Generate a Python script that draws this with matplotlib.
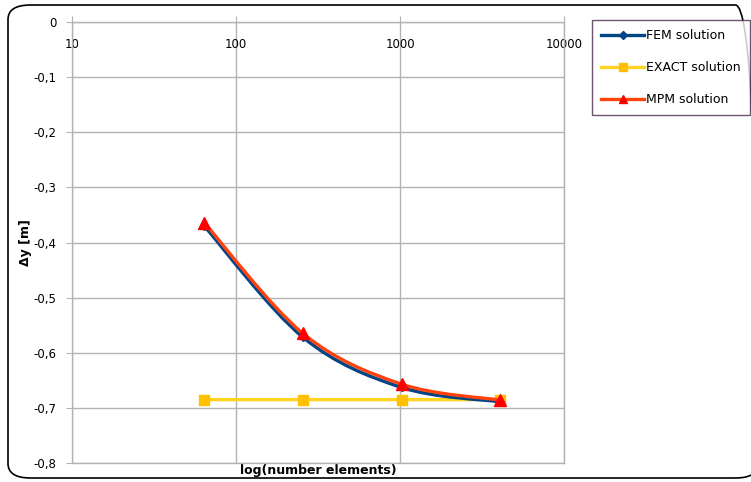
import numpy as np
import matplotlib
matplotlib.use("Agg")
import matplotlib.pyplot as plt
from matplotlib.path import Path
from matplotlib.patches import PathPatch, FancyBboxPatch
from matplotlib.lines import Line2D
from matplotlib.ticker import FuncFormatter, FixedLocator

# data
n_elements = [64, 256, 1024, 4096]
fem = [-0.370, -0.572, -0.663, -0.689]
exact = [-0.685, -0.685, -0.685, -0.685]
mpm = [-0.364, -0.565, -0.657, -0.686]

series_names = ["FEM solution", "EXACT solution", "MPM solution"]
y_ticks = [0, -0.1, -0.2, -0.3, -0.4, -0.5, -0.6, -0.7, -0.8]
x_ticks = [10, 100, 1000, 10000]

GRID = "#b3b3b3"


def smooth_path(xs, ys):
    """Catmull-Rom style bezier through the points (in log10 x space)."""
    lx = np.log10(np.asarray(xs, float))
    y = np.asarray(ys, float)
    px = np.concatenate([[lx[0]], lx, [lx[-1]]])
    py = np.concatenate([[y[0]], y, [y[-1]]])
    verts = [(lx[0], y[0])]
    codes = [Path.MOVETO]
    for i in range(1, len(px) - 2):
        c1 = (px[i] + (px[i + 1] - px[i - 1]) / 6, py[i] + (py[i + 1] - py[i - 1]) / 6)
        c2 = (px[i + 1] - (px[i + 2] - px[i]) / 6, py[i + 1] - (py[i + 2] - py[i]) / 6)
        verts += [c1, c2, (px[i + 1], py[i + 1])]
        codes += [Path.CURVE4] * 3
    verts = [(10 ** a, b) for a, b in verts]
    return Path(verts, codes)


fig = plt.figure(figsize=(7.51, 4.82), dpi=100)
ax = fig.add_axes([72 / 751, 19 / 482, (564 - 72) / 751, (463 - 22) / 482])

ax.set_xscale("log")
ax.set_xlim(10, 10000)
ax.set_ylim(-0.8, 0)

styles = [
    # line colour, marker, marker colour, marker size, zorder
    ("#004586", "D", "#004586", 4.5, 4),
    ("#ffd320", "s", "#ffc000", 7, 3),
    ("#ff420e", "^", "#ff0000", 8, 5),
]
handles = []
for vals, name, (lc, mk, mc, ms, z) in zip([fem, exact, mpm], series_names, styles):
    ax.add_patch(PathPatch(smooth_path(n_elements, vals), facecolor="none",
                           edgecolor=lc, lw=2.4, zorder=z, capstyle="round"))
    ax.plot(n_elements, vals, linestyle="none", marker=mk, ms=ms,
            color=mc, mec=mc, zorder=z + 0.5)
    handles.append(Line2D([], [], color=lc, lw=2.4, marker=mk, ms=ms * 0.8,
                          mfc=mc, mec=mc))

# grid and axes
ax.xaxis.set_major_locator(FixedLocator(x_ticks))
ax.xaxis.set_minor_locator(FixedLocator([]))
ax.set_yticks(y_ticks)
ax.yaxis.set_major_formatter(FuncFormatter(lambda v, p: f"{v:.1f}".replace(".", ",") if v != 0 else "0"))
ax.xaxis.set_major_formatter(FuncFormatter(lambda v, p: f"{int(v)}"))
ax.grid(True, color=GRID, lw=1)
ax.set_axisbelow(True)
for s in ax.spines.values():
    s.set_color(GRID)
    s.set_linewidth(1)

ax.tick_params(axis="x", which="both", bottom=False, labelbottom=False, top=True,
               labeltop=True, direction="out", length=4, color=GRID,
               pad=-25, labelsize=8.5)
ax.tick_params(axis="y", direction="out", length=4, color=GRID, labelsize=8.5, pad=7)

ax.set_xlabel("log(number elements)", fontweight="bold", fontsize=9, labelpad=1)
ax.xaxis.set_label_position("bottom")
ax.set_ylabel("Δy [m]", fontweight="bold", fontsize=9, labelpad=1)

leg = fig.legend(handles, series_names, loc="upper left",
                 bbox_to_anchor=(592 / 751, 1 - 20 / 482), fontsize=9,
                 frameon=True, fancybox=False, edgecolor="#4a2a4a",
                 handlelength=3.4, handletextpad=0.2, labelspacing=1.5,
                 borderpad=0.75, borderaxespad=0)
leg.get_frame().set_linewidth(1)

# rounded outer border of the chart
fig.patches.append(FancyBboxPatch((8 / 751, 4 / 482), 750 / 751, 473 / 482,
                                  boxstyle="round,pad=0,rounding_size=0.03",
                                  transform=fig.transFigure, facecolor="none",
                                  edgecolor="black", lw=1.2, zorder=-1))

fig.savefig("out.png", dpi=100)
